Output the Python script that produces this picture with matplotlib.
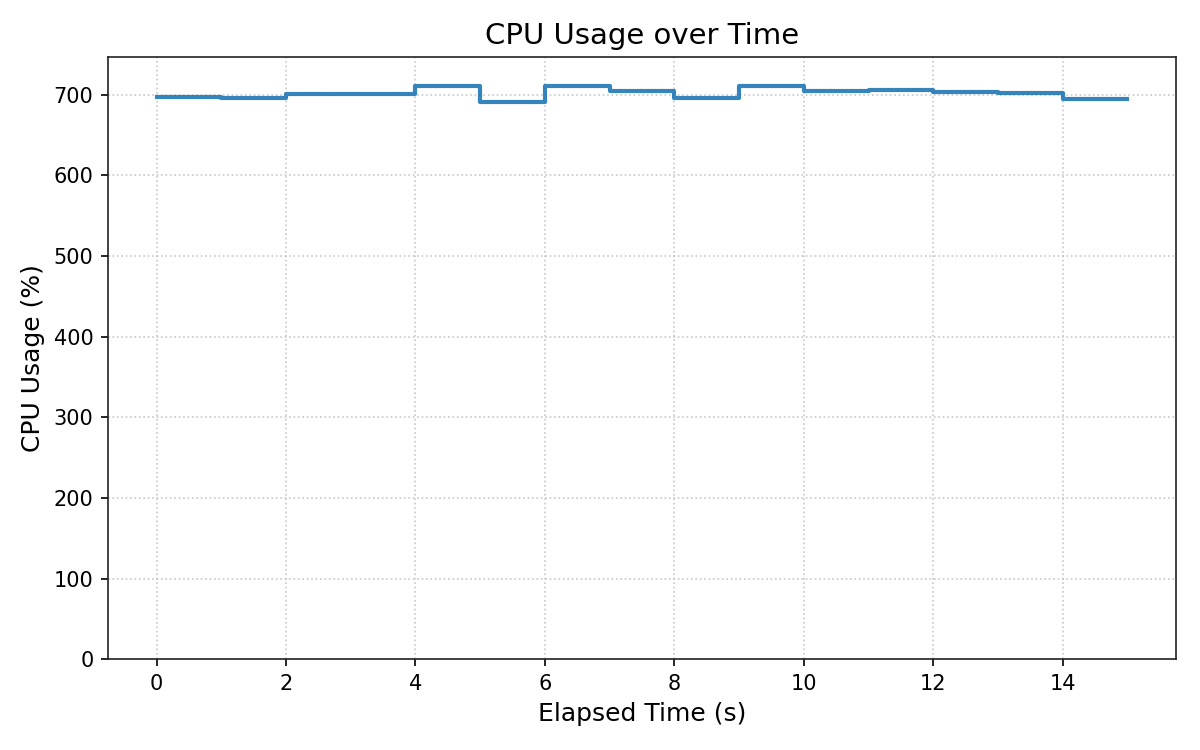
import matplotlib
matplotlib.use("Agg")
import matplotlib.pyplot as plt

elapsed_s = [0, 1, 2, 3, 4, 5, 6, 7, 8, 9, 10, 11, 12, 13, 14, 15]
cpu_pct = [697.5, 696.3, 701.0, 701.0, 710.0, 691.0, 711.0, 705.0,
           696.0, 710.0, 705.0, 706.2, 703.4, 702.0, 694.7, 694.7]

fig, ax = plt.subplots(figsize=(8, 5), dpi=150)
ax.plot(elapsed_s, cpu_pct, drawstyle="steps-post", color="tab:blue",
        alpha=0.9, linewidth=2)
ax.set_ylim(0, max(cpu_pct) * 1.05)
ax.set_title("CPU Usage over Time", fontsize=14)
ax.set_xlabel("Elapsed Time (s)", fontsize=12)
ax.set_ylabel("CPU Usage (%)", fontsize=12)
ax.grid(True, linestyle=":", color="#bbbbbb", alpha=0.8)
for s in ax.spines.values():
    s.set_color("#222222")
fig.subplots_adjust(left=0.09, right=0.98, top=0.924, bottom=0.121)
fig.savefig("out.png", dpi=150)
